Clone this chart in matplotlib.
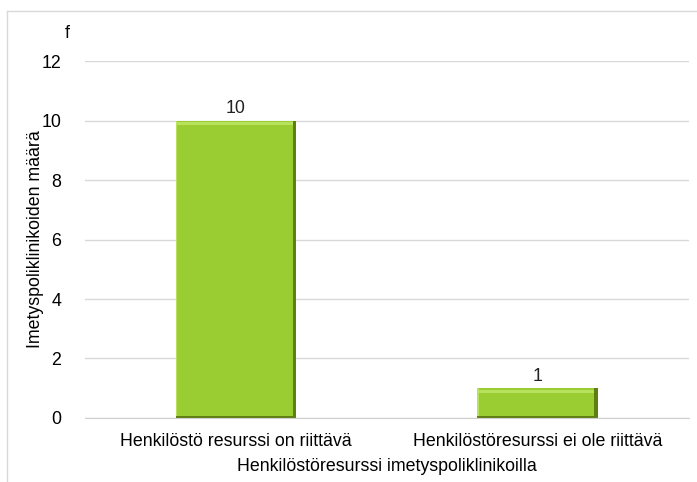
import matplotlib.pyplot as plt

plt.rcParams['font.family'] = ['Liberation Sans', 'DejaVu Sans']

categories = ["Henkilöstö resurssi on riittävä", "Henkilöstöresurssi ei ole riittävä"]
values = [10, 1]
yticks = [0, 2, 4, 6, 8, 10, 12]

fs = 12.8
fig = plt.figure(figsize=(6.97, 4.82), dpi=100)
ax = fig.add_axes([0.122, 0.133, 0.866, 0.740])

x = list(range(len(categories)))
width = 0.40
# dark edge (shadow), main face, light bevels
ax.bar(x, values, width=width, color='#5f7f12', zorder=2)
ax.bar([i - 0.006 for i in x], [v - 0.06 for v in values], bottom=0.06, width=width - 0.012,
       color='#9acd32', zorder=3)
for i, v in zip(x, values):
    ax.bar(i - 0.006, 0.1, bottom=v - 0.16, width=width - 0.012, color='#b8e25e', zorder=4)
    ax.bar(i - width / 2 + 0.003, v - 0.06, bottom=0.06, width=0.006, color='#b8e25e', zorder=4)
    ax.text(i, v + 0.12, str(v), ha='center', va='bottom', fontsize=fs, color='#222222')

ax.set_xlim(-0.5, 1.5)
ax.set_ylim(0, 12)
ax.set_yticks(yticks)
ax.set_xticks(x)
ax.set_xticklabels(categories, fontsize=fs)
ax.tick_params(axis='y', labelsize=fs, length=0, pad=17)
ax.tick_params(axis='x', length=0, pad=11)
ax.grid(axis='y', color='#d9d9d9', linewidth=1, zorder=0)
ax.set_axisbelow(True)
for s in ['top', 'right', 'left']:
    ax.spines[s].set_visible(False)
ax.spines['bottom'].set_color('#d0d0d0')

ax.set_ylabel("Imetyspoliklinikoiden määrä", fontsize=fs)
ax.yaxis.set_label_coords(-0.068, 0.5)
ax.set_xlabel("Henkilöstöresurssi imetyspoliklinikoilla", fontsize=fs)
ax.xaxis.set_label_coords(0.5, -0.112)
fig.text(67 / 697, 1 - 33 / 482, "f", fontsize=fs, ha='center', va='center')

# outer chart frame (top and left edges visible)
fig.add_artist(plt.Line2D([7 / 697, 1], [1 - 11 / 482, 1 - 11 / 482], color='#d9d9d9', lw=1))
fig.add_artist(plt.Line2D([7 / 697, 7 / 697], [0, 1 - 11 / 482], color='#d9d9d9', lw=1))

fig.savefig("out.png", dpi=100)
